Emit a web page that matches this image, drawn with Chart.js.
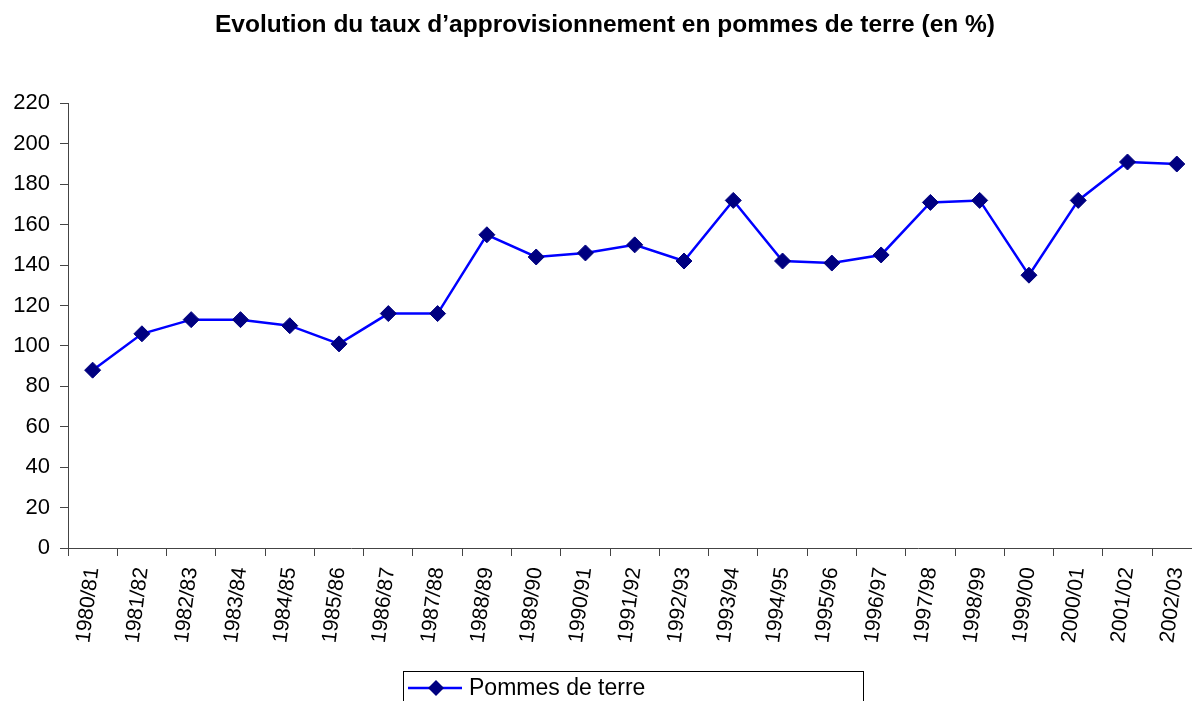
<!DOCTYPE html>
<html><head><meta charset="utf-8">
<script src="https://cdn.jsdelivr.net/npm/chart.js@4/dist/chart.umd.min.js"></script>
<style>html,body{margin:0;padding:0;background:#fff;overflow:hidden}</style>
</head><body>
<div style="width:1192px;height:701px;position:relative;overflow:hidden"><canvas id="c" width="1212" height="701"></canvas></div>
<script>
const categories = ['1980/81','1981/82','1982/83','1983/84','1984/85','1985/86','1986/87','1987/88','1988/89','1989/90','1990/91','1991/92','1992/93','1993/94','1994/95','1995/96','1996/97','1997/98','1998/99','1999/00','2000/01','2001/02','2002/03'];
const values = [88,106,113,113,110,101,116,116,155,144,146,150,142,172,142,141,145,171,172,135,172,191,190];
const yTickValues = [0,20,40,60,80,100,120,140,160,180,200,220];
const seriesName = 'Pommes de terre';
const titleText = 'Evolution du taux d\u2019approvisionnement en pommes de terre (en %)';

const FONT = '"Liberation Sans", Arial, sans-serif';
const lineColor = '#0000FF';
const markerColor = '#000080';
const axisColor = '#444';

const legendBox = {
  id: 'legendBox',
  afterDraw(chart) {
    const ctx = chart.ctx;
    const ca = chart.chartArea;
    const x0 = ca.left + 335, y0 = 671, w = 460, h = 40;
    ctx.save();
    ctx.strokeStyle = '#000';
    ctx.lineWidth = 1;
    ctx.strokeRect(x0 + 0.5, y0 + 0.5, w, h);
    const cy = 688;
    ctx.strokeStyle = lineColor;
    ctx.lineWidth = 2.5;
    ctx.beginPath(); ctx.moveTo(x0 + 5, cy); ctx.lineTo(x0 + 59, cy); ctx.stroke();
    ctx.fillStyle = markerColor;
    ctx.beginPath();
    ctx.moveTo(x0 + 33, cy - 8); ctx.lineTo(x0 + 41, cy); ctx.lineTo(x0 + 33, cy + 8); ctx.lineTo(x0 + 25, cy); ctx.closePath();
    ctx.fill();
    ctx.fillStyle = '#000';
    ctx.font = '23px ' + FONT;
    ctx.textBaseline = 'middle';
    ctx.textAlign = 'left';
    ctx.fillText(seriesName, x0 + 66, cy + 1);
    ctx.restore();
  }
};

new Chart(document.getElementById('c'), {
  type: 'line',
  data: {
    labels: categories,
    datasets: [{
      label: seriesName,
      data: values,
      borderColor: lineColor,
      backgroundColor: markerColor,
      borderWidth: 2.5,
      pointStyle: 'rectRot',
      pointRadius: 8,
      pointBackgroundColor: markerColor,
      pointBorderColor: markerColor,
      pointBorderWidth: 1,
      tension: 0,
      fill: false
    }]
  },
  options: {
    responsive: false,
    animation: false,
    devicePixelRatio: 1,
    layout: {padding: {left: 0, right: 2, top: 0, bottom: 33}},
    plugins: {
      legend: {display: false},
      tooltip: {enabled: false},
      title: {
        display: true,
        text: titleText,
        color: '#000',
        font: {family: FONT, size: 24.5, weight: 'bold'},
        padding: {top: 11, bottom: 63}
      }
    },
    scales: {
      x: {
        offset: true,
        grid: {display: true, drawOnChartArea: false, offset: true, tickLength: 8, color: axisColor},
        border: {display: true, color: axisColor, width: 1},
        ticks: {color: '#000', font: {family: FONT, size: 21}, minRotation: 83, maxRotation: 83, autoSkip: false, padding: 10},
        afterFit(s) { s.height = 120; }
      },
      y: {
        min: 0, max: 220,
        afterBuildTicks(s) { s.ticks = yTickValues.map(v => ({value: v})); },
        grid: {display: true, drawOnChartArea: false, tickLength: 8, color: axisColor},
        border: {display: true, color: axisColor, width: 1},
        ticks: {color: '#000', font: {family: FONT, size: 22}, padding: 10},
        afterFit(s) { s.width = 68; }
      }
    }
  },
  plugins: [legendBox]
});
</script>
</body></html>
